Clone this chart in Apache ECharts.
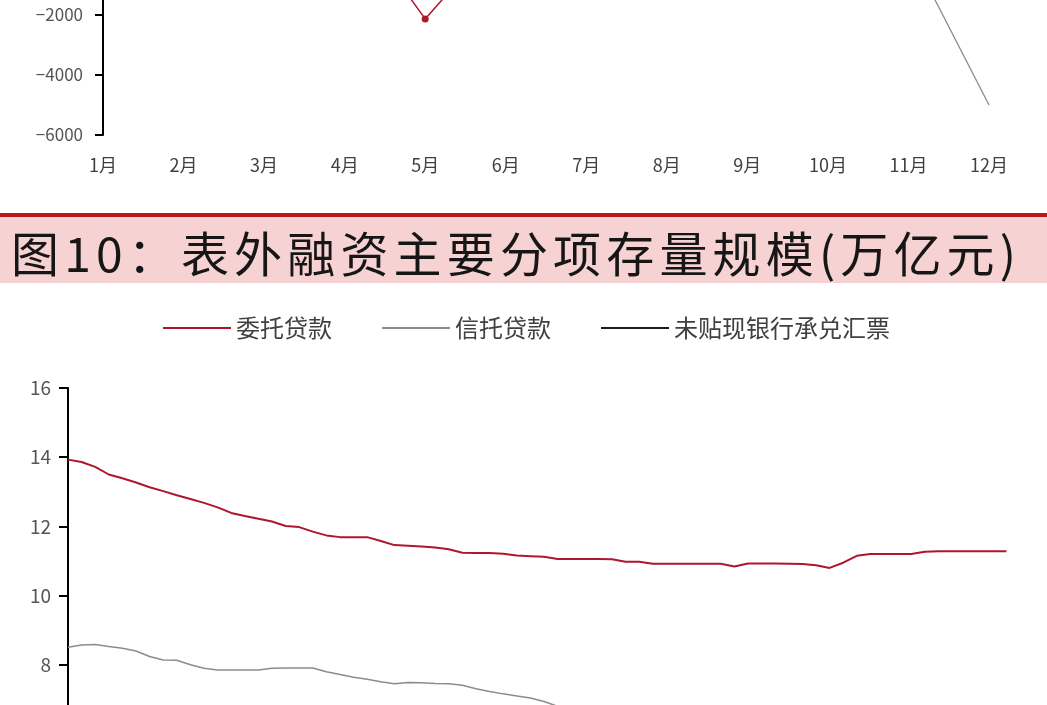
<!DOCTYPE html>
<html>
<head>
<meta charset="utf-8">
<script src="https://cdn.jsdelivr.net/npm/echarts@6/dist/echarts.min.js"></script>
<style>
html,body{margin:0;padding:0;background:#fff;}
#chart{width:1047px;height:705px;}
</style>
</head>
<body>
<div id="chart"></div>
<script>
// ---- upper (cropped) chart: monthly values ----
const topMonths = ['1月','2月','3月','4月','5月','6月','7月','8月','9月','10月','11月','12月'];
// only the points near the visible crop can be read
const topRed  = [null, null, null, 1600, -2130, 900, null, null, null, null, null, null];
const topGray = [null, null, null, null, null, null, null, null, null, null, 230, -5000];
const topYTicks = [-6000, 2000, 2000]; // min, max, interval

// ---- figure 10: off-balance-sheet financing stocks (万亿元) ----
const figTitle = '图10：表外融资主要分项存量规模(万亿元)';
const seriesNames = ['委托贷款', '信托贷款', '未贴现银行承兑汇票'];
const entrusted = [13.93,13.86,13.72,13.5,13.39,13.27,13.13,13.02,12.9,12.79,12.68,12.55,
  12.39,12.3,12.22,12.14,12.01,11.98,11.85,11.74,11.69,11.69,11.69,11.58,
  11.46,11.44,11.42,11.39,11.34,11.24,11.23,11.23,11.21,11.16,11.14,11.12,
  11.06,11.06,11.06,11.06,11.05,10.98,10.98,10.92,10.92,10.92,10.92,10.92,
  10.92,10.84,10.93,10.93,10.93,10.92,10.91,10.88,10.8,10.95,11.15,11.2,
  11.2,11.2,11.2,11.27,11.28,11.28,11.28,11.28,11.28,11.28];
// trust loans: visible part only (line leaves the crop at the bottom)
const trust = [8.51,8.57,8.59,8.53,8.48,8.4,8.24,8.14,8.13,8.0,7.9,7.85,
  7.85,7.85,7.85,7.9,7.91,7.91,7.91,7.8,7.72,7.64,7.58,7.51,
  7.45,7.49,7.48,7.46,7.45,7.41,7.31,7.23,7.16,7.1,7.04,6.94,
  6.8,6.6,6.45];
// undiscounted bankers' acceptances: entirely below the visible crop
const bankersAcceptance = [];
const bottomYTicks = [0, 16, 2]; // min, max, interval

// month categories for the lower chart (Dec 2017 .. Sep 2023)
const bottomCats = [];
for (let y = 2017, m = 12; bottomCats.length < entrusted.length; ) {
  bottomCats.push(y + '-' + (m < 10 ? '0' + m : m));
  m++; if (m > 12) { m = 1; y++; }
}

const RED = '#ad172b';
const GRAY = '#8c8c8c';
const BLACK = '#1a1a1a';
const FONT = '"Noto Sans CJK SC", "Noto Sans", sans-serif';
const minusFmt = v => String(v).replace('-', '\u2212');

// title laid out character by character with letter spacing
const TITLE_FONT = '48px ' + FONT;
const titleLeft = 11, titleRight = 1016;
const mctx = document.createElement('canvas').getContext('2d');
mctx.font = TITLE_FONT;
const chars = Array.from(figTitle);
const widths = chars.map(c => mctx.measureText(c).width);
const natural = widths.reduce((a, b) => a + b, 0);
const spacing = (titleRight - titleLeft - natural) / (chars.length - 1);
const titleEls = [];
let cx = titleLeft;
chars.forEach((c, i) => {
  titleEls.push({type: 'text', x: cx, y: 230, z: 11,
    style: {text: c, fill: '#161616', font: TITLE_FONT}});
  cx += widths[i] + spacing;
});

const chart = echarts.init(document.getElementById('chart'), null, {renderer: 'canvas'});
chart.setOption({
  backgroundColor: '#ffffff',
  animation: false,
  textStyle: {fontFamily: FONT},
  graphic: [
    {type: 'rect', shape: {x: 0, y: 213, width: 1047, height: 4}, style: {fill: '#c0141e'}, z: 10},
    {type: 'rect', shape: {x: 0, y: 217, width: 1047, height: 66}, style: {fill: '#f6d2d2'}, z: 9}
  ].concat(titleEls),
  legend: {
    left: 158, top: 311,
    itemWidth: 68, itemHeight: 2, itemGap: 50,
    icon: 'rect',
    textStyle: {fontSize: 24, color: '#404040', fontFamily: FONT},
    data: seriesNames.map(n => ({name: n, icon: 'rect'}))
  },
  grid: [
    {left: 103, width: 886, top: -105, height: 240, outerBoundsMode: 'none', containLabel: false},
    {left: 68, width: 938.4, top: 388, height: 553.6, outerBoundsMode: 'none', containLabel: false}
  ],
  xAxis: [
    {type: 'category', gridIndex: 0, data: topMonths, boundaryGap: false,
      axisLine: {show: false}, axisTick: {show: false}, splitLine: {show: false},
      axisLabel: {color: '#404040', fontSize: 18, margin: 21, interval: 0, fontFamily: FONT}},
    {type: 'category', gridIndex: 1, data: bottomCats, boundaryGap: false,
      axisLine: {show: false}, axisTick: {show: false}, splitLine: {show: false},
      axisLabel: {show: false}}
  ],
  yAxis: [
    {type: 'value', gridIndex: 0, min: topYTicks[0], max: topYTicks[1], interval: topYTicks[2],
      axisLine: {show: true, lineStyle: {color: '#000', width: 2}},
      axisTick: {show: true, inside: false, length: 8, lineStyle: {color: '#000', width: 2}},
      splitLine: {show: false},
      axisLabel: {color: '#555', fontSize: 17, margin: 20, fontFamily: FONT, formatter: minusFmt}},
    {type: 'value', gridIndex: 1, min: bottomYTicks[0], max: bottomYTicks[1], interval: bottomYTicks[2],
      axisLine: {show: true, lineStyle: {color: '#000', width: 2}},
      axisTick: {show: true, inside: false, length: 9, lineStyle: {color: '#000', width: 2}},
      splitLine: {show: false},
      axisLabel: {color: '#555', fontSize: 19, margin: 17, fontFamily: FONT, formatter: minusFmt}}
  ],
  series: [
    {type: 'line', xAxisIndex: 0, yAxisIndex: 0, data: topRed, clip: false,
      showSymbol: true, symbol: 'circle', symbolSize: 7,
      itemStyle: {color: RED}, lineStyle: {color: RED, width: 1.5}},
    {type: 'line', xAxisIndex: 0, yAxisIndex: 0, data: topGray, clip: false,
      showSymbol: false, itemStyle: {color: GRAY}, lineStyle: {color: GRAY, width: 1.3}},
    {name: seriesNames[0], type: 'line', xAxisIndex: 1, yAxisIndex: 1, data: entrusted,
      showSymbol: false, itemStyle: {color: RED}, lineStyle: {color: RED, width: 2}},
    {name: seriesNames[1], type: 'line', xAxisIndex: 1, yAxisIndex: 1, data: trust,
      showSymbol: false, itemStyle: {color: GRAY}, lineStyle: {color: GRAY, width: 1.5}},
    {name: seriesNames[2], type: 'line', xAxisIndex: 1, yAxisIndex: 1, data: bankersAcceptance,
      showSymbol: false, itemStyle: {color: BLACK}, lineStyle: {color: BLACK, width: 2}}
  ]
});
</script>
</body>
</html>
